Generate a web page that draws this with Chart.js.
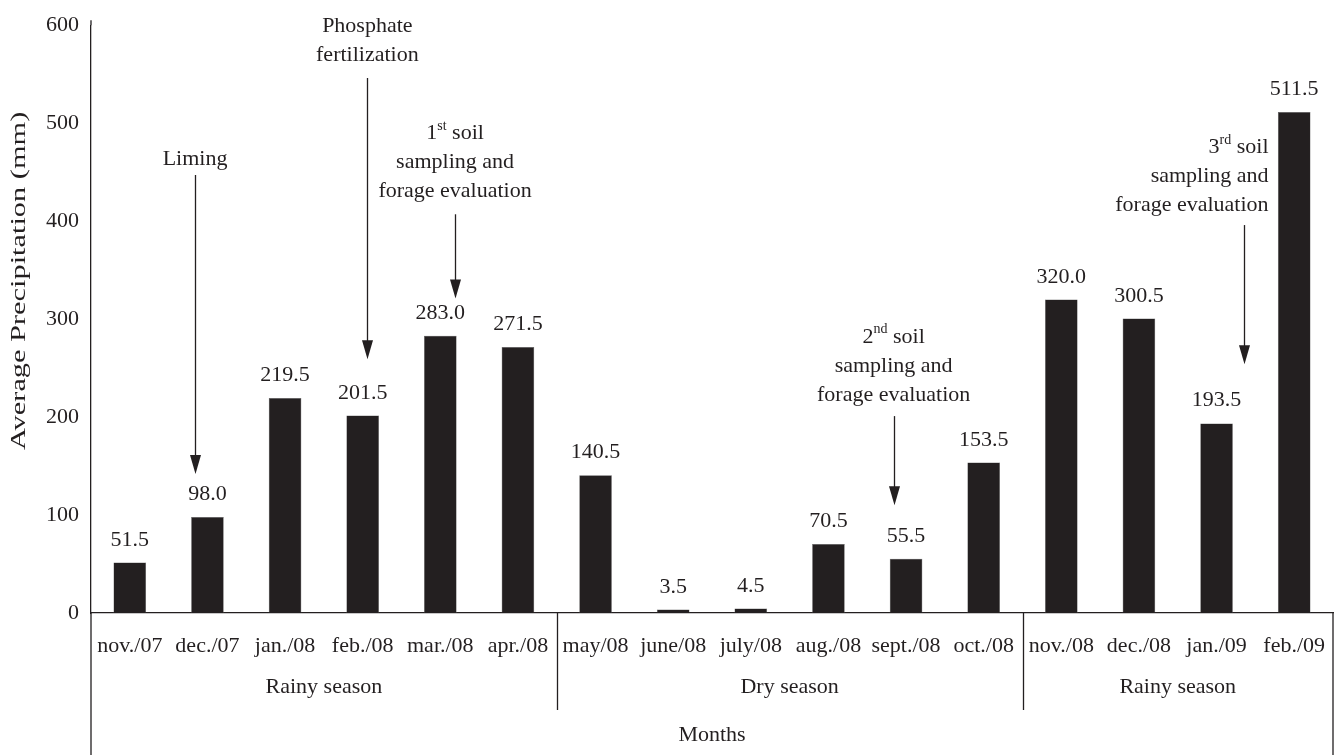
<!DOCTYPE html>
<html>
<head>
<meta charset="utf-8">
<script src="https://cdn.jsdelivr.net/npm/chart.js@4.4.4/dist/chart.umd.min.js"></script>
<style>
  html, body { margin: 0; padding: 0; background: #fff; }
  #wrap { width: 1341px; height: 755px; position: relative; }
</style>
</head>
<body>
<div id="wrap"><canvas id="chart"></canvas></div>
<script>
// ─── Data ────────────────────────────────────────────────────────────────────

const MONTHS = [
    'nov./07', 'dec./07', 'jan./08', 'feb./08', 'mar./08', 'apr./08',
    'may/08', 'june/08', 'july/08', 'aug./08', 'sept./08', 'oct./08',
    'nov./08', 'dec./08', 'jan./09', 'feb./09'
];
const PRECIPITATION = [
    51.5, 98.0, 219.5, 201.5, 283.0, 271.5,
    140.5, 3.5, 4.5, 70.5, 55.5, 153.5,
    320.0, 300.5, 193.5, 511.5
];
const Y_TICKS = [0, 100, 200, 300, 400, 500, 600];

const SEASON_NAMES = ['Rainy season', 'Dry season', 'Rainy season'];
const SEASON_FIRST = [0, 6, 12];
const SEASON_LAST  = [5, 11, 15];

const X_TITLE = 'Months';
const Y_TITLE = 'Average Precipitation (mm)';

// Event annotations: text lines (segments, sup = superscript), anchor position
// along the category axis, value levels for text lines and the arrow.
const EVENT_LINES = [
    [[{ t: 'Liming' }]],
    [[{ t: 'Phosphate' }], [{ t: 'fertilization' }]],
    [[{ t: '1' }, { t: 'st', sup: true }, { t: ' soil' }], [{ t: 'sampling and' }], [{ t: 'forage evaluation' }]],
    [[{ t: '2' }, { t: 'nd', sup: true }, { t: ' soil' }], [{ t: 'sampling and' }], [{ t: 'forage evaluation' }]],
    [[{ t: '3' }, { t: 'rd', sup: true }, { t: ' soil' }], [{ t: 'sampling and' }], [{ t: 'forage evaluation' }]]
];
const EVENT_ARROW_AT  = [0.84, 3.06, 4.19, 9.84, 14.35];
const EVENT_TEXT_AT   = [0.84, 3.06, 4.19, 9.84, 14.67];
const EVENT_ALIGN     = ['center', 'center', 'center', 'center', 'right'];
const EVENT_TEXT_TOP  = [463, 599, 490, 282, 475];
const EVENT_ARROW_TOP = [447, 546, 407, 201, 396];
const EVENT_ARROW_END = [142, 259, 321, 110, 254];

// ─── Style ───────────────────────────────────────────────────────────────────

const INK = '#231f20';
const SERIF = "'Liberation Serif', 'DejaVu Serif', 'Times New Roman', serif";
const FONT_SIZE = 22;
const LINE_GAP = 29;

Chart.defaults.font.family = SERIF;
Chart.defaults.font.size = FONT_SIZE;
Chart.defaults.color = INK;

// ─── Plugin: labels, season groups, annotations ──────────────────────────────

function drawRich(ctx, segs, x, y, align) {
    const supFont = `${Math.round(FONT_SIZE * 0.62)}px ${SERIF}`;
    const mainFont = `${FONT_SIZE}px ${SERIF}`;
    let total = 0;
    segs.forEach(s => { ctx.font = s.sup ? supFont : mainFont; total += ctx.measureText(s.t).width; });
    let cx = align === 'right' ? x - total : x - total / 2;
    ctx.textAlign = 'left';
    segs.forEach(s => {
        ctx.font = s.sup ? supFont : mainFont;
        ctx.fillText(s.t, cx, s.sup ? y - FONT_SIZE * 0.32 : y);
        cx += ctx.measureText(s.t).width;
    });
}

const decorPlugin = {
    id: 'decor',
    afterDraw(chart) {
        const { ctx, chartArea: { left, right, top, bottom } } = chart;
        const xs = chart.scales.x, ys = chart.scales.y;
        const H = chart.height;
        ctx.save();
        ctx.fillStyle = INK;
        ctx.strokeStyle = INK;
        ctx.lineWidth = 1.3;

        // value labels
        ctx.font = `${FONT_SIZE}px ${SERIF}`;
        ctx.textAlign = 'center';
        ctx.textBaseline = 'alphabetic';
        chart.getDatasetMeta(0).data.forEach((bar, i) => {
            ctx.fillText(PRECIPITATION[i].toFixed(1), bar.x, bar.y - 17);
        });

        // frame: axis stub above the top tick, and lines below the axis
        ctx.beginPath();
        ctx.moveTo(left, top - 5); ctx.lineTo(left, top);
        ctx.moveTo(left, bottom); ctx.lineTo(left, H);
        ctx.moveTo(right, bottom); ctx.lineTo(right, H);
        ctx.stroke();

        // season separators and names
        ctx.beginPath();
        for (let k = 0; k < SEASON_FIRST.length - 1; k++) {
            const sx = Math.round(xs.getPixelForValue(SEASON_LAST[k] + 0.5)) + 0.5;
            ctx.moveTo(sx, bottom); ctx.lineTo(sx, bottom + 97);
        }
        ctx.stroke();
        ctx.textBaseline = 'middle';
        SEASON_NAMES.forEach((name, k) => {
            const cx = xs.getPixelForValue((SEASON_FIRST[k] + SEASON_LAST[k]) / 2);
            ctx.fillText(name, cx, bottom + 74);
        });
        ctx.fillText(X_TITLE, (left + right) / 2, bottom + 122);

        // y title (set long and narrow, as in the original figure)
        ctx.save();
        ctx.translate(19, ys.getPixelForValue(339));
        ctx.rotate(-Math.PI / 2);
        ctx.scale(1.38, 1);
        ctx.textAlign = 'center';
        ctx.fillText(Y_TITLE, 0, 0);
        ctx.restore();

        // annotations
        ctx.textBaseline = 'middle';
        EVENT_LINES.forEach((lines, e) => {
            const tx = xs.getPixelForValue(EVENT_TEXT_AT[e]);
            const ty0 = ys.getPixelForValue(EVENT_TEXT_TOP[e]);
            lines.forEach((segs, j) => drawRich(ctx, segs, tx, ty0 + j * LINE_GAP, EVENT_ALIGN[e]));

            const ax = Math.round(xs.getPixelForValue(EVENT_ARROW_AT[e])) + 0.5;
            const a0 = ys.getPixelForValue(EVENT_ARROW_TOP[e]);
            const a1 = ys.getPixelForValue(EVENT_ARROW_END[e]);
            ctx.beginPath();
            ctx.moveTo(ax, a0); ctx.lineTo(ax, a1 - 14);
            ctx.stroke();
            ctx.beginPath();
            ctx.moveTo(ax - 5.5, a1 - 19);
            ctx.lineTo(ax + 5.5, a1 - 19);
            ctx.lineTo(ax, a1);
            ctx.closePath();
            ctx.fill();
        });
        ctx.restore();
    }
};

// ─── Chart ───────────────────────────────────────────────────────────────────

new Chart(document.getElementById('chart'), {
    type: 'bar',
    data: {
        labels: MONTHS,
        datasets: [{
            data: PRECIPITATION,
            backgroundColor: INK,
            borderColor: '#555',
            borderWidth: 0.5,
            borderSkipped: 'bottom',
            categoryPercentage: 1,
            barPercentage: 0.42
        }]
    },
    options: {
        responsive: true,
        maintainAspectRatio: false,
        animation: false,
        layout: { padding: { top: 22, right: 8, left: 0, bottom: 0 } },
        plugins: { legend: { display: false }, tooltip: { enabled: false } },
        scales: {
            x: {
                grid: { display: false, drawTicks: false },
                border: { color: INK, width: 1.3 },
                ticks: { autoSkip: false, maxRotation: 0, minRotation: 0, padding: 20, color: INK },
                afterFit: s => { s.height = 142; s.paddingLeft = 0; s.paddingRight = 0; }
            },
            y: {
                min: 0,
                max: 600,
                grid: { display: false, drawTicks: false },
                border: { color: INK, width: 1.3 },
                afterBuildTicks: s => { s.ticks = Y_TICKS.map(v => ({ value: v })); },
                ticks: { padding: 12, color: INK },
                afterFit: s => { s.width = 91; }
            }
        }
    },
    plugins: [decorPlugin]
});
</script>
</body>
</html>
